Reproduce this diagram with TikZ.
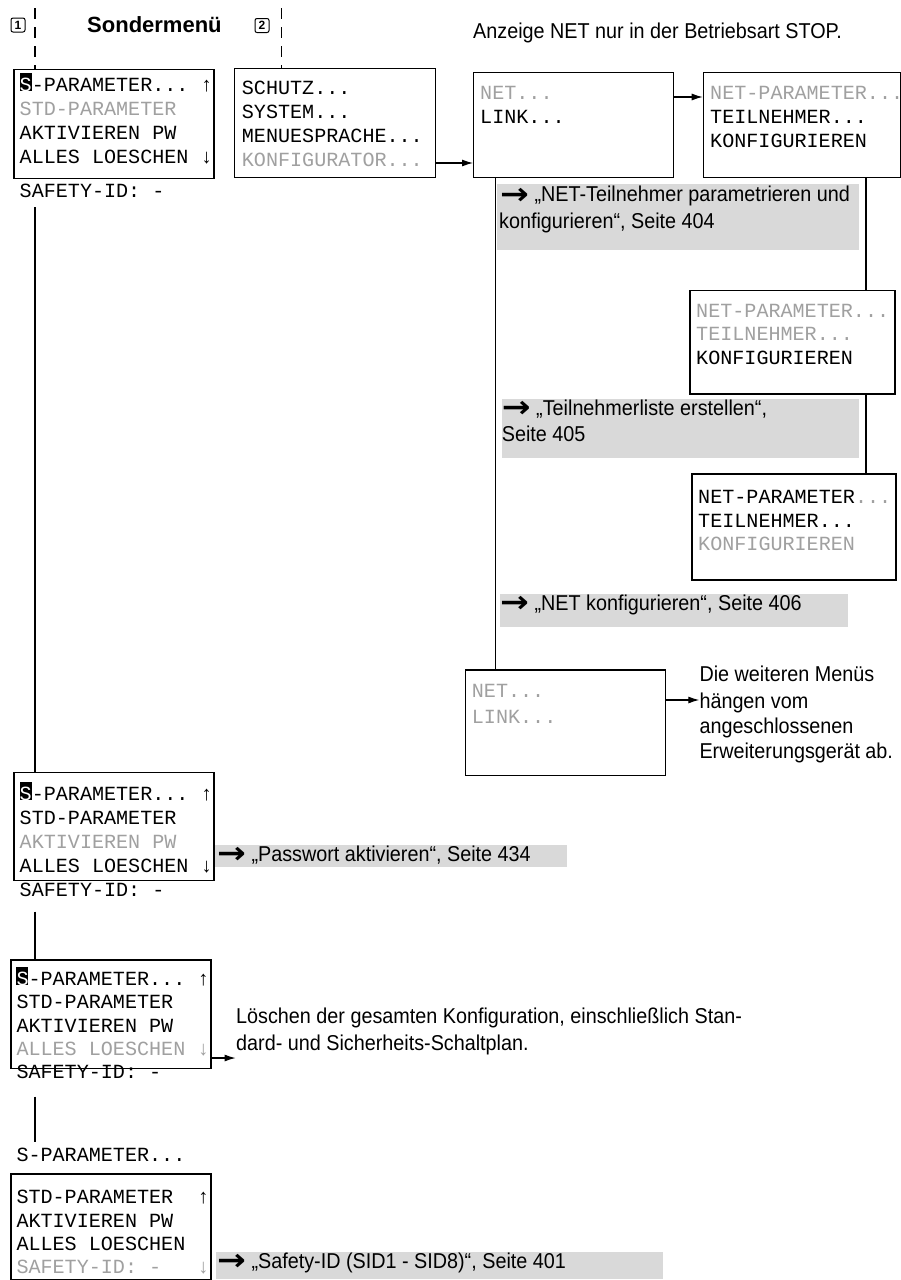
\documentclass[tikz,border=0pt]{standalone}
\usepackage{fontspec}
\setmainfont{Liberation Sans}
\newfontfamily\bodyfam{Liberation Sans}[FakeStretch=0.92]
\newfontfamily\lcdfam{Liberation Mono}
\newfontfamily\arrowfam{DejaVu Sans}
\usetikzlibrary{arrows.meta}
\definecolor{lcdgray}{HTML}{A0A0A0}
\definecolor{boxgray}{HTML}{D9D9D9}
\newcommand\calloutarrow{{\arrowfam\bfseries\raisebox{-2.4pt}{\scalebox{1.6}[1.4]{→}}}}
\begin{document}
\begin{tikzpicture}[x=1pt,y=-1pt,
  lcd/.style={font=\lcdfam\fontsize{20.1}{24}\selectfont, anchor=base west, inner sep=0pt},
  lcdoff/.style={lcd, text=lcdgray},
  body/.style={font=\bodyfam\fontsize{21.5}{26}\selectfont, anchor=base west, inner sep=0pt},
  menubox/.style={draw, line width=1.3pt, anchor=north west, inner sep=0pt},
  callout/.style={fill=boxgray, draw=none, anchor=north west, inner sep=0pt},
  link/.style={line width=1.1pt},
  flow/.style={link, -{Latex[length=11pt,width=7pt]}},
  guide/.style={line width=1.1pt, dash pattern=on 11pt off 8pt},
  numbox/.style={draw, line width=1pt, rounded corners=2pt, minimum size=14pt, inner sep=0pt, font=\bfseries\fontsize{12}{12}\selectfont},
  cursor/.style={fill=black}
]
\useasboundingbox (0,0) rectangle (901,1280);
\fill[white] (0,0) rectangle (901,1280);

% header
\node[numbox] (n1) at (18,25) {1};
\node[numbox] (n2) at (262,25.5) {2};
\node[font=\bfseries\fontsize{22}{24}\selectfont, anchor=base west, inner sep=0pt] (title) at (87,32) {Sondermenü};
\node[body] (note) at (473,38) {Anzeige NET nur in der Betriebsart STOP.};

% menu boxes
\node[menubox, minimum width=200pt, minimum height=109pt] (A) at (13.3,69) {};
\node[menubox, minimum width=201pt, minimum height=109pt] (B) at (234,67.7) {};
\node[menubox, minimum width=200pt, minimum height=105pt] (C) at (473,71.7) {};
\node[menubox, minimum width=197pt, minimum height=105pt] (D) at (702.7,71.7) {};
\node[menubox, minimum width=205pt, minimum height=103.3pt] (E) at (689.3,290) {};
\node[menubox, minimum width=204pt, minimum height=106pt] (F) at (691.3,473.3) {};
\node[menubox, minimum width=200pt, minimum height=105.7pt] (H) at (465,669.3) {};
\node[menubox, minimum width=200pt, minimum height=108.3pt] (P) at (13.3,771.7) {};
\node[menubox, minimum width=200pt, minimum height=108.4pt] (Q) at (10.3,959.3) {};
\node[menubox, minimum width=200pt, minimum height=106pt] (R) at (10.3,1173.3) {};

% guides
\coordinate (g1) at (35,8);
\coordinate (g2) at (281.7,8);
\draw[guide] (g1) -- (g1 |- A.north);
\draw[guide] (g2) -- (g2 |- B.north);

% box A
\fill[cursor] (19.5,72.7) rectangle (31.6,91);
\node[lcd] (a1) at (19.5,91) {{\color{white}S}-PARAMETER...~↑};
\node[lcdoff] (a2) at (19.5,115.5) {STD-PARAMETER};
\node[lcd] (a3) at (19.5,139.5) {AKTIVIEREN PW};
\node[lcd] (a4) at (19.5,163.5) {ALLES LOESCHEN~↓};
\node[lcd] (a5) at (19.5,197) {SAFETY-ID:~-};

% box B
\node[lcd] (b1) at (241.7,94) {SCHUTZ...};
\node[lcd] (b2) at (241.7,118) {SYSTEM...};
\node[lcd] (b3) at (241.7,142) {MENUESPRACHE...};
\node[lcdoff] (b4) at (241.7,166) {KONFIGURATOR...};

% box C
\node[lcdoff] (c1) at (480,99) {NET...};
\node[lcd] (c2) at (480,123) {LINK...};

% box D
\node[lcdoff] (d1) at (710,99) {NET-PARAMETER...};
\node[lcd] (d2) at (710,123) {TEILNEHMER...};
\node[lcd] (d3) at (710,147) {KONFIGURIEREN};

% box E
\node[lcdoff] (e1) at (696,317) {NET-PARAMETER...};
\node[lcdoff] (e2) at (696,340.5) {TEILNEHMER...};
\node[lcd] (e3) at (696,364) {KONFIGURIEREN};

% box F
\node[lcd] (f1) at (698,503) {NET-PARAMETER{\color{lcdgray}...}};
\node[lcd] (f2) at (698,527) {TEILNEHMER...};
\node[lcdoff] (f3) at (698,550) {KONFIGURIEREN};

% box H
\node[lcdoff] (h1) at (471.7,697) {NET...};
\node[lcdoff] (h2) at (471.7,723) {LINK...};

% box P
\fill[cursor] (19.5,782) rectangle (31.6,800.3);
\node[lcd] (p1) at (19.5,800) {{\color{white}S}-PARAMETER...~↑};
\node[lcd] (p2) at (19.5,824.3) {STD-PARAMETER};
\node[lcdoff] (p3) at (19.5,848.3) {AKTIVIEREN PW};
\node[lcd] (p4) at (19.5,872.3) {ALLES LOESCHEN~↓};
\node[lcd] (p5) at (19.5,896.7) {SAFETY-ID:~-};

% box Q
\fill[cursor] (16.3,967) rectangle (28.4,985.3);
\node[lcd] (q1) at (16.3,985) {{\color{white}S}-PARAMETER...~↑};
\node[lcd] (q2) at (16.3,1008.5) {STD-PARAMETER};
\node[lcd] (q3) at (16.3,1032) {AKTIVIEREN PW};
\node[lcdoff] (q4) at (16.3,1055.5) {ALLES LOESCHEN~↓};
\node[lcd] (q5) at (16.3,1078.3) {SAFETY-ID:~-};

% S-PARAMETER line and box R
\node[lcd] (s0) at (16.3,1161.7) {S-PARAMETER...};
\node[lcd] (r1) at (16.3,1203) {STD-PARAMETER~~↑};
\node[lcd] (r2) at (16.3,1227) {AKTIVIEREN PW};
\node[lcd] (r3) at (16.3,1250) {ALLES LOESCHEN};
\node[lcdoff] (r4) at (16.3,1273) {SAFETY-ID:~-~~~↓};

% connectors
\coordinate (cl) at (495.7,0);
\coordinate (dl) at (866,0);
\draw[link] (C.south -| cl) -- (H.north -| cl);
\draw[link] (D.south -| dl) -- (E.north -| dl);
\draw[link] (E.south -| dl) -- (F.north -| dl);
\coordinate (s1) at (35,207);
\coordinate (s2) at (35,911.7);
\coordinate (s3) at (35,1096.7);
\coordinate (s4) at (35,1141.7);
\draw[link] (s1) -- (s1 |- P.north);
\draw[link] (s2) -- (s2 |- Q.north);
\draw[link] (s3) -- (s4);
\draw[flow] ([yshift=15pt]B.south east) -- ([yshift=15pt]B.south east -| C.west);
\draw[flow] ([yshift=-25.3pt]C.north east) -- ([yshift=-25.3pt]C.north east -| D.west);
\draw[flow] ([yshift=-30.7pt]H.north east) -- ++(33,0) coordinate (hend);
\draw[flow] ([yshift=11pt]Q.south east) -- ++(24,0) coordinate (qend);

% callouts
\node[callout, minimum width=362pt, minimum height=66pt] (k1) at (497,184) {};
\node[callout, minimum width=357.3pt, minimum height=58.7pt] (k2) at (501.7,399) {};
\node[callout, minimum width=347.7pt, minimum height=32.7pt] (k3) at (500,594) {};
\node[callout, minimum width=352pt, minimum height=22pt] (k4) at (215,845) {};
\node[callout, minimum width=446.7pt, minimum height=26.6pt] (k5) at (216,1251.7) {};

\node[body] (k1a) at (500,201.7) {\calloutarrow{} „NET-Teilnehmer parametrieren und};
\node[body] (k1b) at (499,228) {konfigurieren“, Seite 404};
\node[body] (k2a) at (501.7,415) {\calloutarrow{} „Teilnehmerliste erstellen“,};
\node[body] (k2b) at (501.7,441.7) {Seite 405};
\node[body] (k3a) at (500,610) {\calloutarrow{} „NET konfigurieren“, Seite 406};
\node[body] (k4a) at (217,861) {\calloutarrow{} „Passwort aktivieren“, Seite 434};
\node[body] (k5a) at (217,1268.3) {\calloutarrow{} „Safety-ID (SID1 - SID8)“, Seite 401};

% notes
\node[body] (t1) at (699.3,681.7) {Die weiteren Menüs};
\node[body] (t2) at (699.3,708) {hängen vom};
\node[body] (t3) at (699.3,733) {angeschlossenen};
\node[body] (t4) at (699.3,758) {Erweiterungsgerät ab.};
\node[body] (l1) at (236,1023) {Löschen der gesamten Konfiguration, einschließlich Stan-};
\node[body] (l2) at (236,1050) {dard- und Sicherheits-Schaltplan.};
\end{tikzpicture}
\end{document}
